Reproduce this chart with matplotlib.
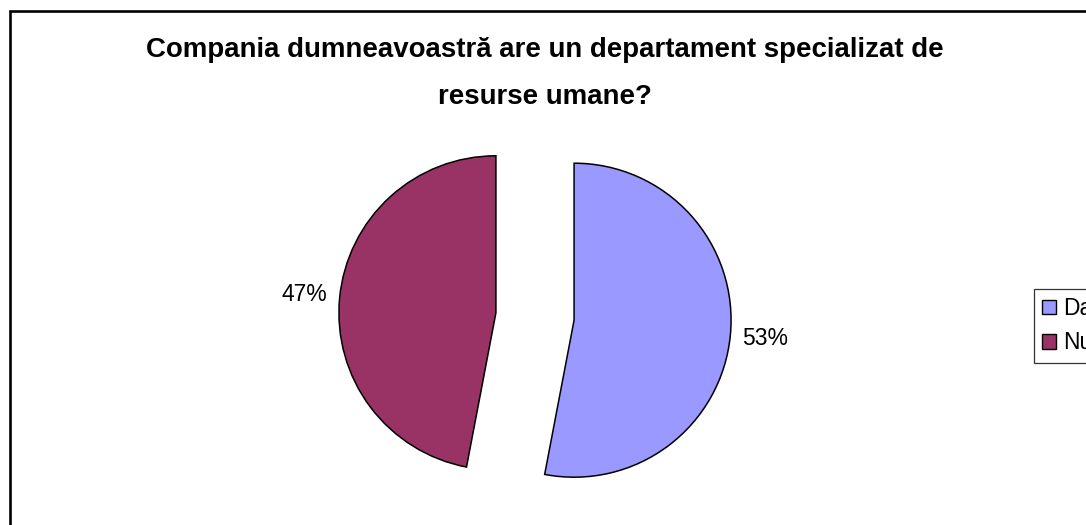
import matplotlib
matplotlib.use("Agg")
import matplotlib.pyplot as plt
from matplotlib.patches import Rectangle

# ---- data ----
categories = ["Da", "Nu"]
values = [53, 47]
colors = ["#9999FF", "#993366"]
title_lines = ["Compania dumneavoastră are un departament specializat de",
               "resurse umane?"]

W, H = 1086, 525
DPI = 100
plt.rcParams['font.family'] = ['Liberation Sans', 'DejaVu Sans']

fig = plt.figure(figsize=(W / DPI, H / DPI), dpi=DPI)
fig.patch.set_facecolor("white")

# outer chart border (extends beyond right and bottom edges)
fig.add_artist(Rectangle((9.7 / W, -0.1), 1.2, 1 - 10.7 / H + 0.1,
                         transform=fig.transFigure, fill=False,
                         edgecolor="black", linewidth=1.9, zorder=0))

# pie axes: center (535, 316.5) px, radius 157 px
cx, cy, R = 535.0, 316.5, 157.0
half = 200.0
L = half / R
ax = fig.add_axes([(cx - half) / W, (H - cy - half) / H, 2 * half / W, 2 * half / H])
wedges, texts, autotexts = ax.pie(
    values, colors=colors, startangle=90, counterclock=False,
    explode=[0.25, 0.25], autopct='%1.0f%%', pctdistance=1.225,
    wedgeprops=dict(edgecolor="black", linewidth=1.1),
    textprops=dict(fontsize=16.5, color="black"))
ax.set_xlim(-L, L)
ax.set_ylim(-L, L)
ax.set_aspect('equal')
ax.axis('off')
for w in wedges:
    w.set_clip_on(False)

# title, two lines, centered at x=545
t1 = fig.text(545 / W, 1 - 57 / H, title_lines[0], ha='center', va='baseline',
              fontsize=18.5, fontweight='bold')
t2 = fig.text(545 / W, 1 - 104 / H, title_lines[1], ha='center', va='baseline',
              fontsize=18.5, fontweight='bold')
fig.canvas.draw()
r = fig.canvas.get_renderer()
wpx = t1.get_window_extent(r).width
fs = 18.5 * 798.0 / wpx
t1.set_fontsize(fs)
t2.set_fontsize(fs)

# legend (cut off at the right edge, as in the reference)
leg = fig.legend(wedges, categories, loc='upper left',
                 bbox_to_anchor=(1034 / W, 1 - 289 / H), borderaxespad=0,
                 fontsize=16.5, frameon=True, fancybox=False,
                 edgecolor='black', handlelength=0.6, handleheight=0.6,
                 handletextpad=0.3, labelspacing=0.5, borderpad=0.35)
leg.get_frame().set_linewidth(0.9)
for h in leg.legend_handles:
    h.set_linewidth(1.0)

fig.savefig("out.png", dpi=DPI, facecolor="white")
